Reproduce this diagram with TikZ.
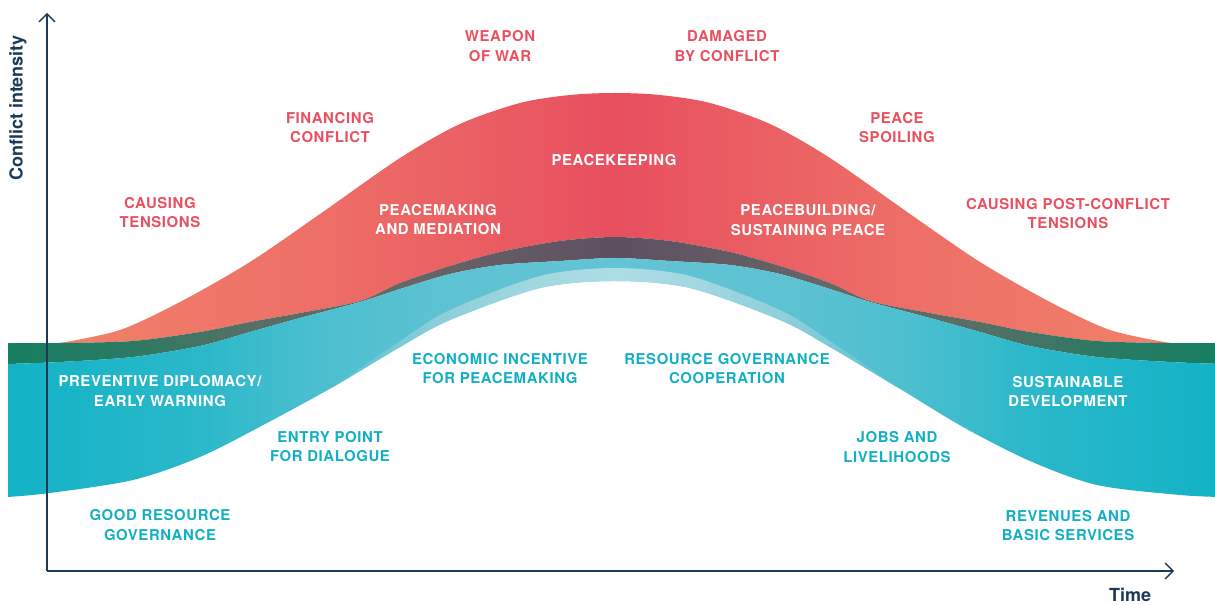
\documentclass[tikz,border=0pt]{standalone}
\usepackage{fontspec}
\setmainfont{TeX Gyre Heros}
\newfontfamily\capsfont{TeX Gyre Heros}[LetterSpace=4]
\usetikzlibrary{arrows.meta}

\definecolor{navy}{HTML}{1C3A56}
\definecolor{txtred}{HTML}{E9505F}
\definecolor{txtteal}{HTML}{12AFC4}
% fills
\definecolor{redA}{HTML}{F0806A}
\definecolor{redB}{HTML}{EE7068}
\definecolor{redC}{HTML}{EA6063}
\definecolor{redD}{HTML}{E84F5F}
\definecolor{bandA}{HTML}{157F61}
\definecolor{bandB}{HTML}{2C7A63}
\definecolor{bandC}{HTML}{566F65}
\definecolor{bandD}{HTML}{666866}
\definecolor{bandE}{HTML}{645C65}
\definecolor{bandF}{HTML}{5E4F61}
\definecolor{tealA}{HTML}{12B2C6}
\definecolor{tealB}{HTML}{2BB8CA}
\definecolor{tealC}{HTML}{4DBFCF}
\definecolor{tealD}{HTML}{5DC2D2}
\definecolor{tealE}{HTML}{62C4D4}
\definecolor{stripA}{HTML}{5AC1D1}
\definecolor{stripB}{HTML}{7ACAD7}
\definecolor{stripC}{HTML}{8ECFDB}
\definecolor{stripD}{HTML}{A2D8E1}
\definecolor{stripE}{HTML}{ACDDE5}

\pgfdeclarehorizontalshading{redfill}{100bp}{color(0bp)=(redA); color(25bp)=(redA); color(36bp)=(redB); color(43bp)=(redC); color(50bp)=(redD); color(57bp)=(redC); color(64bp)=(redB); color(75bp)=(redA); color(100bp)=(redA)}
\pgfdeclarehorizontalshading{bandfill}{100bp}{color(0bp)=(bandA); color(25bp)=(bandA); color(30bp)=(bandB); color(35bp)=(bandC); color(41bp)=(bandD); color(45bp)=(bandE); color(50bp)=(bandF); color(55bp)=(bandE); color(59bp)=(bandD); color(65bp)=(bandC); color(70bp)=(bandB); color(75bp)=(bandA); color(100bp)=(bandA)}
\pgfdeclarehorizontalshading{tealfill}{100bp}{color(0bp)=(tealA); color(25bp)=(tealA); color(33bp)=(tealB); color(38bp)=(tealC); color(43bp)=(tealD); color(50bp)=(tealE); color(57bp)=(tealD); color(62bp)=(tealC); color(67bp)=(tealB); color(75bp)=(tealA); color(100bp)=(tealA)}
\pgfdeclarehorizontalshading{stripfill}{100bp}{color(0bp)=(stripA); color(25bp)=(stripA); color(31bp)=(stripB); color(35bp)=(stripC); color(43bp)=(stripD); color(50bp)=(stripE); color(57bp)=(stripD); color(65bp)=(stripC); color(69bp)=(stripB); color(75bp)=(stripA); color(100bp)=(stripA)}

\begin{document}
\begin{tikzpicture}[x=0.75pt,y=-0.75pt,every node/.style={inner sep=0pt},
	caps/.style={font=\capsfont\bfseries\fontsize{11.2}{14.6}\selectfont, align=center},
	redlabel/.style={caps,text=txtred},
	teallabel/.style={caps,text=txtteal},
	whitelabel/.style={caps,text=white},
	axislabel/.style={text=navy,font=\bfseries\fontsize{13.5}{15}\selectfont},
	axis/.style={draw=navy,line width=1pt,-{Straight Barb[length=6pt,width=12pt]}}]
	
	\useasboundingbox (0,0) rectangle (1215,605);
	
	%red hill
	\shade[shading=redfill] plot[smooth] coordinates {(60,343) (120,330) (180,302) (250,262) (320,214) (400,158) (460,124) (520,103) (570,95) (615,93) (660,95) (710,103) (770,124) (830,158) (910,214) (980,262) (1050,302) (1110,330) (1170,343)}
	-- plot[smooth] coordinates {(1170,343) (1097,341) (1030,332) (980,322) (930,313) (870,301) (830,283) (780,266) (730,252) (670,241) (615,237) (560,241) (500,252) (450,266) (400,283) (360,301) (300,313) (250,322) (200,332) (133,341) (60,343)} -- cycle;
	%dark band
	\shade[shading=bandfill] plot[smooth] coordinates {(8,343) (60,343) (133,341) (200,332) (250,322) (300,313) (360,301) (400,283) (450,266) (500,252) (560,241) (615,237) (670,241) (730,252) (780,266) (830,283) (870,301) (930,313) (980,322) (1030,332) (1097,341) (1170,343) (1222,343)}
	-- plot[smooth] coordinates {(1222,364) (1170,362) (1097,357) (1030,346) (980,332) (930,318) (870,302) (830,289) (780,274) (730,265) (670,261) (615,258) (560,261) (500,265) (450,274) (400,289) (360,302) (300,318) (250,332) (200,346) (133,357) (60,362) (8,364)} -- cycle;
	%teal hill
	\shade[shading=tealfill] plot[smooth] coordinates {(8,364) (60,362) (133,357) (200,346) (250,332) (300,318) (360,302) (400,289) (450,274) (500,265) (560,261) (615,258) (670,261) (730,265) (780,274) (830,289) (870,302) (930,318) (980,332) (1030,346) (1097,357) (1170,362) (1222,364)}
	-- plot[smooth] coordinates {(1222,497) (1180,495) (1097,485) (1030,461) (963,427) (897,387) (830,347) (780,320) (690,288) (615,281) (540,288) (450,320) (400,347) (333,387) (267,423) (200,457) (133,480) (50,493) (8,497)} -- cycle;
	\shade[shading=stripfill] plot[smooth] coordinates {(330,389) (400,347) (450,320) (540,288) (615,281) (690,288) (780,320) (830,347) (900,389)}
	-- plot[smooth] coordinates {(900,389) (830,341) (780,310) (690,276) (615,268) (540,276) (450,310) (400,341) (330,389)} -- cycle;
	
	%axes
	\coordinate (origin) at (47,571);
	\coordinate (ytop) at (47,13);
	\coordinate (xend) at (1174,571);
	\draw[axis] (origin) -- (ytop);
	\draw[axis] (origin) -- (xend);
	\node[axislabel,rotate=90] (ylabel) at (18,108) {Conflict intensity};
	\node[axislabel,anchor=base] (xlabel) at (1130,602) {Time};
	
	%labels
	\node[redlabel] (weapon) at (500,46) {WEAPON\\OF WAR};
	\node[redlabel] (damaged) at (727,46) {DAMAGED\\BY CONFLICT};
	\node[redlabel] (financing) at (330,127.5) {FINANCING\\CONFLICT};
	\node[redlabel] (spoiling) at (897,127.5) {PEACE\\SPOILING};
	\node[redlabel] (causing) at (160,212.5) {CAUSING\\TENSIONS};
	\node[redlabel] (postconflict) at (1068,213.5) {CAUSING POST-CONFLICT\\TENSIONS};
	
	\node[whitelabel] (keeping) at (614,160) {PEACEKEEPING};
	\node[whitelabel] (making) at (438,219.5) {PEACEMAKING\\AND MEDIATION};
	\node[whitelabel] (building) at (808,220) {PEACEBUILDING/\\SUSTAINING PEACE};
	\node[whitelabel] (preventive) at (160,391) {PREVENTIVE DIPLOMACY/\\EARLY WARNING};
	\node[whitelabel] (sustainable) at (1068,391.5) {SUSTAINABLE\\DEVELOPMENT};
	
	\node[teallabel] (incentive) at (500,368.5) {ECONOMIC INCENTIVE\\FOR PEACEMAKING};
	\node[teallabel] (cooperation) at (727,368.5) {RESOURCE GOVERNANCE\\COOPERATION};
	\node[teallabel] (entry) at (330,446.5) {ENTRY POINT\\FOR DIALOGUE};
	\node[teallabel] (jobs) at (897,447) {JOBS AND\\LIVELIHOODS};
	\node[teallabel] (good) at (160,525) {GOOD RESOURCE\\GOVERNANCE};
	\node[teallabel] (revenues) at (1068,525.5) {REVENUES AND\\BASIC SERVICES};
	
\end{tikzpicture}
\end{document}
